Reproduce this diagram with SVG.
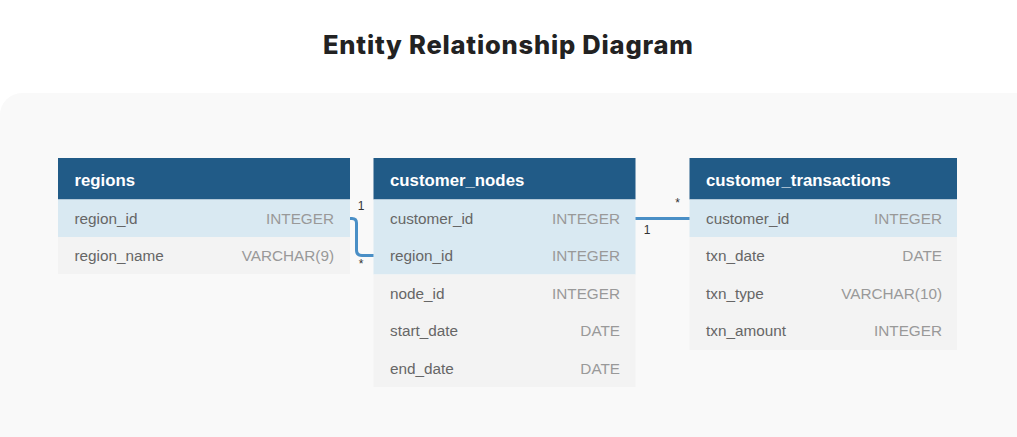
<svg xmlns="http://www.w3.org/2000/svg" width="1017" height="437" viewBox="0 0 1017 437">
<style>
.title{font-family:Inter,"Liberation Sans",sans-serif;font-weight:800;font-size:25.5px;fill:#222}
.hdr{fill:#215b87}
.hl{fill:#d9e9f2}
.row{fill:#f3f3f3}
.th{font-family:"Liberation Sans",Arial,sans-serif;font-weight:700;font-size:16.8px;fill:#fff}
.fn{font-family:"Liberation Sans",Arial,sans-serif;font-size:15.3px;fill:#666}
.ft{font-family:"Liberation Sans",Arial,sans-serif;font-size:15.3px;fill:#999;text-anchor:end}
.card{font-family:"Liberation Sans",Arial,sans-serif;font-size:12px;fill:#333;text-anchor:middle}
.conn{fill:none;stroke:#4a8fc6;stroke-width:3}
</style>
<rect width="1017" height="437" fill="#fff"/>
<text class="title" x="323" y="54" textLength="370" lengthAdjust="spacing">Entity Relationship Diagram</text>
<rect x="0" y="93" width="1037" height="380" rx="22" fill="#f9f9f9"/>

<g id="regions">
<rect class="hdr" x="58" y="158" width="292" height="41.5"/>
<rect class="hl" x="58" y="199.5" width="292" height="37.5"/>
<rect class="row" x="58" y="237" width="292" height="37"/>
<text class="th" x="74.5" y="186">regions</text>
<text class="fn" x="74.5" y="223.5">region_id</text><text class="ft" x="334" y="223.5">INTEGER</text>
<text class="fn" x="74.5" y="261">region_name</text><text class="ft" x="334" y="261">VARCHAR(9)</text>
</g>

<g id="customer_nodes">
<rect class="hdr" x="373.5" y="158" width="262" height="41.5"/>
<rect class="hl" x="373.5" y="199.5" width="262" height="75"/>
<rect class="row" x="373.5" y="274.5" width="262" height="112.5"/>
<text class="th" x="390" y="186">customer_nodes</text>
<text class="fn" x="390" y="223.5">customer_id</text><text class="ft" x="620" y="223.5">INTEGER</text>
<text class="fn" x="390" y="261">region_id</text><text class="ft" x="620" y="261">INTEGER</text>
<text class="fn" x="390" y="298.5">node_id</text><text class="ft" x="620" y="298.5">INTEGER</text>
<text class="fn" x="390" y="336">start_date</text><text class="ft" x="620" y="336">DATE</text>
<text class="fn" x="390" y="373.5">end_date</text><text class="ft" x="620" y="373.5">DATE</text>
</g>

<g id="customer_transactions">
<rect class="hdr" x="689.5" y="158" width="267.5" height="41.5"/>
<rect class="hl" x="689.5" y="199.5" width="267.5" height="37.5"/>
<rect class="row" x="689.5" y="237" width="267.5" height="113"/>
<text class="th" x="706" y="186">customer_transactions</text>
<text class="fn" x="706" y="223.5">customer_id</text><text class="ft" x="942" y="223.5">INTEGER</text>
<text class="fn" x="706" y="261">txn_date</text><text class="ft" x="942" y="261">DATE</text>
<text class="fn" x="706" y="298.5">txn_type</text><text class="ft" x="942" y="298.5">VARCHAR(10)</text>
<text class="fn" x="706" y="336">txn_amount</text><text class="ft" x="942" y="336">INTEGER</text>
</g>

<g id="connectors">
<path class="conn" d="M350 218.5 H352 Q356.5 218.5 356.5 223 V250 Q356.5 255.5 362 255.5 H373.5"/>
<text class="card" x="361" y="210">1</text>
<text class="card" x="361" y="268">*</text>
<path class="conn" d="M635.5 218.5 H689.5"/>
<text class="card" x="677.5" y="207">*</text>
<text class="card" x="647" y="234">1</text>
</g>
</svg>
